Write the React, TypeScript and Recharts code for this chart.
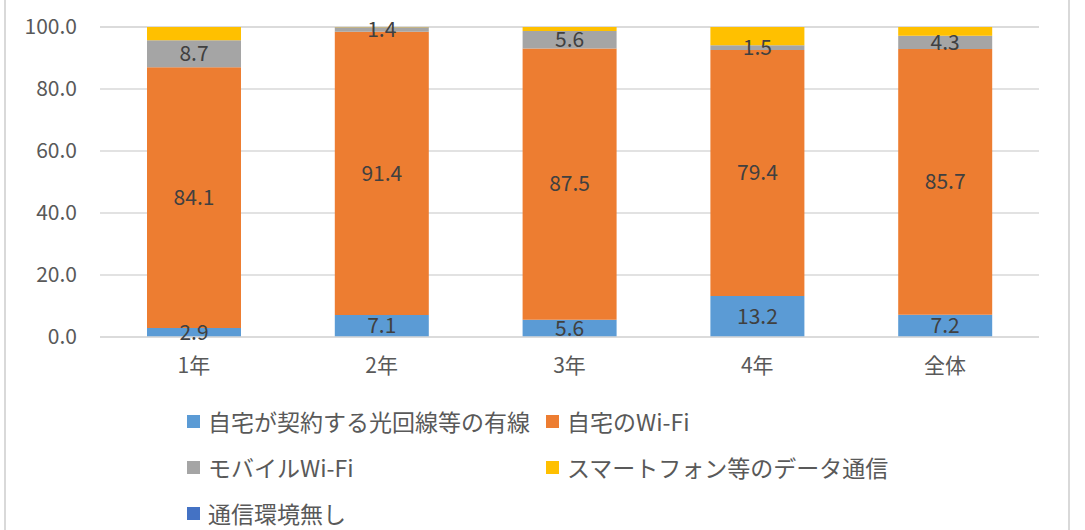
import React from 'react';
import { BarChart, Bar, XAxis, YAxis, CartesianGrid, LabelList } from 'recharts';

const categories = ['1年', '2年', '3年', '4年', '全体'];
const wired = [2.9, 7.1, 5.6, 13.2, 7.2];
const homeWifi = [84.1, 91.4, 87.5, 79.4, 85.7];
const mobileWifi = [8.7, 1.4, 5.6, 1.5, 4.3];
const smartphone = [4.3, 0.1, 1.3, 5.9, 2.8];
const noNetwork = [0, 0, 0, 0, 0];
const yTicks = [0, 20, 40, 60, 80, 100];

const SERIES = [
  { key: 'wired', name: '自宅が契約する光回線等の有線', color: '#5B9BD5', label: true },
  { key: 'homeWifi', name: '自宅のWi-Fi', color: '#ED7D31', label: true },
  { key: 'mobileWifi', name: 'モバイルWi-Fi', color: '#A5A5A5', label: true },
  { key: 'smartphone', name: 'スマートフォン等のデータ通信', color: '#FFC000', label: false },
  { key: 'noNetwork', name: '通信環境無し', color: '#4472C4', label: false },
];

const data = categories.map((c, i) => ({
  name: c,
  wired: wired[i],
  homeWifi: homeWifi[i],
  mobileWifi: mobileWifi[i],
  smartphone: smartphone[i],
  noNetwork: noNetwork[i],
}));

const FONT = '"Noto Sans CJK JP", "Noto Sans", sans-serif';

const fmt = (v: any) => (typeof v === 'number' && v > 0 ? v.toFixed(1) : '');

export default function App() {
  return (
    <div style={{ position: 'absolute', left: 0, top: 0, width: 1085, height: 530, background: '#fff', fontFamily: FONT, overflow: 'hidden' }}>
      <div
        style={{
          position: 'absolute',
          left: 4,
          top: -4,
          width: 1062,
          height: 540,
          borderLeft: '2px solid #D9D9D9',
          borderRight: '2px solid #D9D9D9',
        }}
      />
      <div style={{ position: 'absolute', left: 0, top: 0 }}>
        <BarChart width={1085} height={390} data={data} margin={{ top: 27, right: 46, left: 0, bottom: 23 }}>
          <CartesianGrid vertical={false} stroke="#D9D9D9" strokeWidth={1.5} />
          <XAxis
            dataKey="name"
            height={30}
            axisLine={{ stroke: '#D9D9D9', strokeWidth: 1.5 }}
            tickLine={false}
            tickMargin={15}
            tick={{ fill: '#595959', fontSize: 21, fontFamily: FONT }}
          />
          <YAxis
            width={100}
            domain={[0, 100]}
            ticks={yTicks}
            tickFormatter={(v: number) => v.toFixed(1)}
            axisLine={false}
            tickLine={false}
            tickMargin={17}
            tick={{ fill: '#595959', fontSize: 21, fontFamily: FONT }}
          />
          {SERIES.map((s) => (
            <Bar key={s.key} dataKey={s.key} name={s.name} stackId="a" fill={s.color} barSize={94} isAnimationActive={false}>
              {s.label && (
                <LabelList
                  dataKey={s.key}
                  position="center"
                  formatter={fmt}
                  style={{ fill: '#404040', fontSize: 21, fontFamily: FONT }}
                />
              )}
            </Bar>
          ))}
        </BarChart>
      </div>
      {SERIES.map((s, i) => {
        const col = i % 2;
        const row = Math.floor(i / 2);
        return (
          <div
            key={s.key}
            style={{
              position: 'absolute',
              left: col === 0 ? 187 : 546,
              top: 421 + row * 46 - 16,
              height: 32,
              display: 'flex',
              alignItems: 'center',
              fontSize: 23,
              color: '#595959',
              whiteSpace: 'nowrap',
            }}
          >
            <span style={{ display: 'inline-block', width: 13, height: 13, background: s.color, marginRight: 8 }} />
            {s.name}
          </div>
        );
      })}
    </div>
  );
}
